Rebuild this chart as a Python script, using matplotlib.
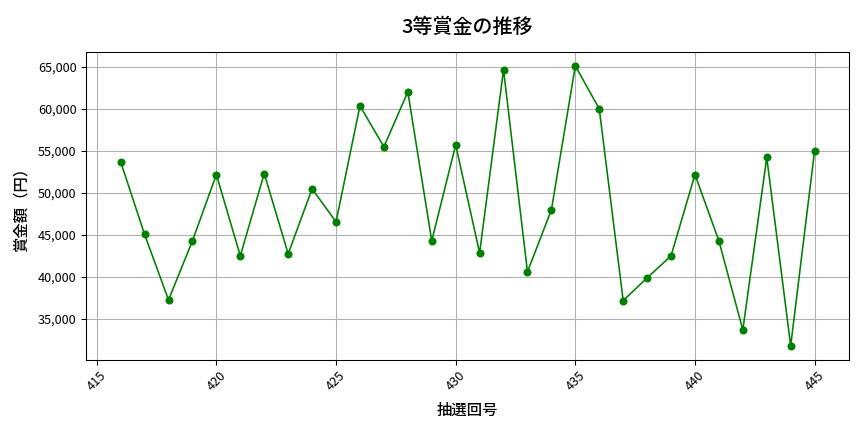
import matplotlib.pyplot as plt
from matplotlib.ticker import FuncFormatter

plt.rcParams['font.family'] = ['Noto Sans CJK JP', 'DejaVu Sans']

# 抽選回 and 3等賞金
draws = list(range(416, 446))
prize = [53700, 45050, 37260, 44290, 52180, 42500, 52300, 42740, 50480, 46550,
         60360, 55480, 62020, 44290, 55710, 42860, 64640, 40600, 47980, 65120,
         60000, 37180, 39880, 42500, 52180, 44290, 33690, 54210, 31790, 55040]

fig, ax = plt.subplots(figsize=(9, 4.5), dpi=96)

ax.plot(draws, prize, marker='o', color='green', markersize=5, linewidth=1.2)

ax.set_title("3等賞金の推移", fontsize=15, fontweight='medium', pad=14)
ax.set_xlabel("抽選回号", fontsize=11.5, fontweight='medium', labelpad=6)
ax.set_ylabel("賞金額（円）", fontsize=11.5, fontweight='medium', labelpad=6)
ax.yaxis.set_major_formatter(FuncFormatter(lambda v, p: "{:,.0f}".format(v)))
ax.tick_params(labelsize=9.5)
plt.xticks(rotation=45)
ax.grid(True)

# axes box placed to match the reference layout
fig.subplots_adjust(left=0.0995, right=0.983, top=0.880, bottom=0.167)
plt.savefig("out.png")
